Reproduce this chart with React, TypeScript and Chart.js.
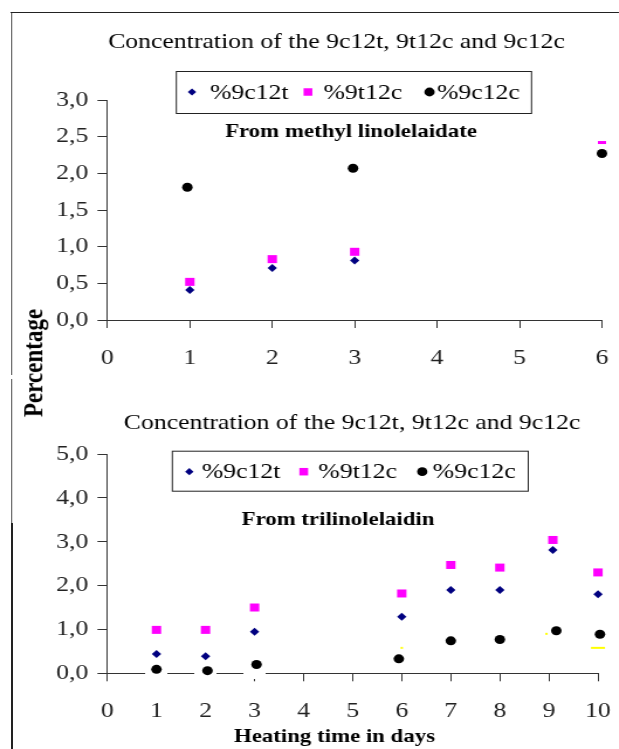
import React, { useEffect, useRef } from 'react';
import { Chart, registerables } from 'chart.js';

Chart.register(...registerables);

const STRETCH = 1.17;
const W = 529;
const CANVAS_W = 570;
const TOP_H = 376;
const BOT_H = 373;
const SERIF = '"Liberation Serif", "Times New Roman", serif';
const AXIS = '#333333';

const SERIES_LABELS = ['%9c12t', '%9t12c', '%9c12c'];
const SERIES_COLORS = ['#000080', '#FF00FF', '#000000'];

// ---- top panel ----
const TOP_TITLE = 'Concentration of the 9c12t, 9t12c and 9c12c';
const TOP_SUBTITLE = 'From methyl linolelaidate';
const TOP_X_TICKS = ['0', '1', '2', '3', '4', '5', '6'];
const TOP_Y_TICKS = ['0,0', '0,5', '1,0', '1,5', '2,0', '2,5', '3,0'];
const TOP_9C12T_X = [1, 2, 3];
const TOP_9C12T_Y = [0.41, 0.71, 0.81];
const TOP_9T12C_X = [1, 2, 3, 6];
const TOP_9T12C_Y = [0.52, 0.83, 0.93, 2.42];
const TOP_9C12C_X = [0.97, 2.98, 6];
const TOP_9C12C_Y = [1.81, 2.07, 2.27];

// ---- bottom panel ----
const BOT_TITLE = 'Concentration of the 9c12t, 9t12c and 9c12c';
const BOT_SUBTITLE = 'From trilinolelaidin';
const BOT_X_TITLE = 'Heating time in days';
const Y_TITLE = 'Percentage';
const BOT_X_TICKS = ['0', '1', '2', '3', '4', '5', '6', '7', '8', '9', '10'];
const BOT_Y_TICKS = ['0,0', '1,0', '2,0', '3,0', '4,0', '5,0'];
const BOT_9C12T_X = [1, 2, 3, 6, 7, 8, 9.08, 10];
const BOT_9C12T_Y = [0.44, 0.39, 0.95, 1.29, 1.9, 1.9, 2.81, 1.8];
const BOT_9T12C_X = [1, 2, 3, 6, 7, 8, 9.08, 10];
const BOT_9T12C_Y = [0.99, 0.99, 1.5, 1.82, 2.47, 2.41, 3.04, 2.3];
const BOT_9C12C_X = [1, 2.04, 3.04, 5.94, 7, 8, 9.15, 10.04];
const BOT_9C12C_Y = [0.09, 0.06, 0.2, 0.33, 0.74, 0.77, 0.97, 0.89];
const BOT_TRACE_X = [6, 8.95, 10];
const BOT_TRACE_Y = [0.58, 0.9, 0.58];
const BOT_GAP_X = [1, 2, 3];
const BOT_GAP_Y = [-0.02, -0.02, 0.06];

const MARKER_STYLES = ['rectRot', 'rect', 'circle'];
const MARKER_RADII = [4, 5.66, 4.5];
const LEGEND_RADII = [3.6, 5.3, 4.4];

const pts = (xs: number[], ys: number[]) => xs.map((x, i) => ({ x, y: ys[i] }));

function seriesDataset(i: number, xs: number[], ys: number[], extra: any = {}) {
  return {
    label: SERIES_LABELS[i],
    data: pts(xs, ys),
    pointStyle: MARKER_STYLES[i],
    legendStyle: MARKER_STYLES[i],
    pointRadius: MARKER_RADII[i],
    pointBorderWidth: 0,
    pointBackgroundColor: SERIES_COLORS[i],
    pointBorderColor: SERIES_COLORS[i],
    backgroundColor: SERIES_COLORS[i],
    borderColor: SERIES_COLORS[i],
    showLine: false,
    clip: false,
    inLegend: true,
    ...extra,
  };
}

function drawMarker(ctx: CanvasRenderingContext2D, style: string, x: number, y: number, r: number, color: string) {
  ctx.fillStyle = color;
  ctx.beginPath();
  if (style === 'rectRot') {
    ctx.moveTo(x, y - r);
    ctx.lineTo(x + r, y);
    ctx.lineTo(x, y + r);
    ctx.lineTo(x - r, y);
    ctx.closePath();
  } else if (style === 'rect') {
    const s = r * Math.SQRT1_2;
    ctx.rect(x - s, y - s, 2 * s, 2 * s);
  } else {
    ctx.arc(x, y, r, 0, Math.PI * 2);
  }
  ctx.fill();
}

const overlayPlugin = {
  id: 'overlay',
  afterDraw(chart: any, _args: any, opts: any) {
    const ctx: CanvasRenderingContext2D = chart.ctx;
    ctx.save();
    const lg = opts.legend;
    if (lg) {
      const [x0, y0, x1, y1] = lg.box;
      ctx.fillStyle = '#ffffff';
      ctx.fillRect(x0, y0, x1 - x0, y1 - y0);
      ctx.strokeStyle = '#222222';
      ctx.lineWidth = 1;
      ctx.strokeRect(x0 + 0.5, y0 + 0.5, x1 - x0, y1 - y0);
      const items = chart.data.datasets.filter((d: any) => d.inLegend);
      items.forEach((d: any, i: number) => {
        drawMarker(ctx, d.legendStyle, lg.markerX[i], lg.y, LEGEND_RADII[i], d.backgroundColor);
        ctx.fillStyle = '#000000';
        ctx.font = lg.font;
        ctx.textAlign = 'left';
        ctx.textBaseline = 'middle';
        ctx.fillText(d.label, lg.textX[i], lg.y + 1);
      });
    }
    (opts.texts || []).forEach((t: any) => {
      ctx.fillStyle = '#000000';
      ctx.font = t.font;
      ctx.textAlign = 'center';
      ctx.textBaseline = 'middle';
      ctx.fillText(t.text, t.x, t.y);
    });
    ctx.restore();
  },
};

function makeConfig(p: any): any {
  const tickFont = { family: SERIF, size: 22 };
  return {
    type: 'scatter',
    data: { datasets: p.datasets },
    plugins: [overlayPlugin],
    options: {
      animation: false,
      responsive: false,
      maintainAspectRatio: false,
      events: [],
      layout: { padding: { top: p.padTop, right: CANVAS_W - p.plotRight, bottom: 0, left: 0 } },
      plugins: {
        legend: { display: false },
        title: { display: false },
        tooltip: { enabled: false },
        overlay: { legend: p.legend, texts: p.texts },
      },
      scales: {
        x: {
          type: 'linear',
          min: 0,
          max: p.xMax,
          afterBuildTicks: (s: any) => {
            s.ticks = p.xTicks.map((_: string, i: number) => ({ value: i }));
          },
          ticks: {
            padding: 16.8,
            color: '#222222',
            font: tickFont,
            maxRotation: 0,
            autoSkip: false,
            callback: (_v: any, i: number) => p.xTicks[i],
          },
          grid: { display: true, drawOnChartArea: false, drawTicks: true, tickLength: 8, color: AXIS, lineWidth: 1 },
          border: { display: true, color: AXIS, width: 1 },
          afterFit: (s: any) => {
            s.height = p.xAxisH;
          },
        },
        y: {
          type: 'linear',
          min: 0,
          max: p.yMax,
          afterBuildTicks: (s: any) => {
            s.ticks = p.yTicks.map((_: string, i: number) => ({ value: i * p.yStep }));
          },
          ticks: {
            padding: 7.8,
            color: '#222222',
            font: tickFont,
            autoSkip: false,
            callback: (_v: any, i: number) => p.yTicks[i],
          },
          grid: { display: true, drawOnChartArea: false, drawTicks: true, tickLength: 8.5, color: AXIS, lineWidth: 1 },
          border: { display: true, color: AXIS, width: 1 },
          afterFit: (s: any) => {
            s.width = 91.8;
          },
        },
      },
    },
  };
}

function makeGapMask() {
  const c = document.createElement('canvas');
  c.width = 19;
  c.height = 16;
  const g = c.getContext('2d')!;
  g.fillStyle = '#ffffff';
  g.fillRect(0, 0, c.width, c.height);
  return c;
}

function topConfig() {
  return makeConfig({
    padTop: 100,
    plotRight: 514.5,
    xAxisH: 56,
    xMax: 6,
    yMax: 3,
    yStep: 0.5,
    xTicks: TOP_X_TICKS,
    yTicks: TOP_Y_TICKS,
    datasets: [
      seriesDataset(0, TOP_9C12T_X, TOP_9C12T_Y),
      seriesDataset(1, TOP_9T12C_X, TOP_9T12C_Y, {
        pointStyle: ['rect', 'rect', 'rect', 'line'],
        pointRadius: [5.66, 5.66, 5.66, 3.5],
        pointBorderWidth: [0, 0, 0, 3],
      }),
      seriesDataset(2, TOP_9C12C_X, TOP_9C12C_Y),
    ],
    legend: {
      box: [150.2, 71, 453.8, 113],
      y: 92,
      font: `22px ${SERIF}`,
      textX: [179.5, 276.5, 373.5],
      markerX: [164.1, 263.2, 367.1],
    },
    texts: [
      { text: TOP_TITLE, x: 287.6, y: 42, font: `22px ${SERIF}` },
      { text: TOP_SUBTITLE, x: 300, y: 132, font: `bold 19.5px ${SERIF}` },
    ],
  });
}

function bottomConfig() {
  return makeConfig({
    padTop: 78,
    plotRight: 511.1,
    xAxisH: 75.7,
    xMax: 10,
    yMax: 5,
    yStep: 1,
    xTicks: BOT_X_TICKS,
    yTicks: BOT_Y_TICKS,
    datasets: [
      seriesDataset(0, BOT_9C12T_X, BOT_9C12T_Y),
      seriesDataset(1, BOT_9T12C_X, BOT_9T12C_Y),
      seriesDataset(2, BOT_9C12C_X, BOT_9C12C_Y),
      {
        label: 'trace',
        data: pts(BOT_TRACE_X, BOT_TRACE_Y),
        pointStyle: 'line',
        pointRadius: [1, 1, 6],
        pointBorderWidth: 2,
        pointBorderColor: '#FFFF00',
        pointBackgroundColor: '#FFFF00',
        showLine: false,
        clip: false,
        order: 5,
        inLegend: false,
      },
      {
        label: 'gap',
        data: pts(BOT_GAP_X, BOT_GAP_Y),
        pointStyle: makeGapMask(),
        pointRadius: 6,
        showLine: false,
        clip: false,
        order: 10,
        inLegend: false,
      },
    ],
    legend: {
      box: [146.8, 74.7, 451, 114.7],
      y: 95.7,
      font: `22px ${SERIF}`,
      textX: [172.4, 272.1, 369.8],
      markerX: [161.8, 259.6, 360.9],
    },
    texts: [
      { text: BOT_TITLE, x: 300.9, y: 47.3, font: `22px ${SERIF}` },
      { text: BOT_SUBTITLE, x: 288.9, y: 144, font: `bold 19.5px ${SERIF}` },
      { text: BOT_X_TITLE, x: 285.9, y: 360.7, font: `bold 19.5px ${SERIF}` },
    ],
  });
}

function Panel({ config, top, height }: { config: () => any; top: number; height: number }) {
  const ref = useRef<HTMLCanvasElement>(null);
  useEffect(() => {
    const chart = new Chart(ref.current as HTMLCanvasElement, config());
    return () => chart.destroy();
  }, []);
  return (
    <canvas
      ref={ref}
      width={CANVAS_W}
      height={height}
      style={{ position: 'absolute', left: 0, top, width: CANVAS_W, height, display: 'block' }}
    />
  );
}

export default function App() {
  const line = '#222222';
  return (
    <div
      style={{
        position: 'absolute',
        left: 0,
        top: 0,
        width: W,
        height: 749,
        overflow: 'hidden',
        background: '#ffffff',
        transform: `scaleX(${STRETCH})`,
        transformOrigin: '0 0',
      }}
    >
      <Panel config={topConfig} top={0} height={TOP_H} />
      <Panel config={bottomConfig} top={TOP_H} height={BOT_H} />
      <div style={{ position: 'absolute', left: 8.5, top: 12, width: W - 8.5, height: 1, background: line }} />
      <div style={{ position: 'absolute', left: 8.5, top: 12, width: 1, height: 363, background: line }} />
      <div style={{ position: 'absolute', left: 8.5, top: 379, width: 1, height: 370, background: line }} />
      <div
        style={{
          position: 'absolute',
          left: 29,
          top: 363,
          transform: 'translate(-50%, -50%) rotate(-90deg)',
          font: `bold 23px ${SERIF}`,
          whiteSpace: 'nowrap',
          color: '#000000',
          lineHeight: 1,
        }}
      >
        {Y_TITLE}
      </div>
    </div>
  );
}
